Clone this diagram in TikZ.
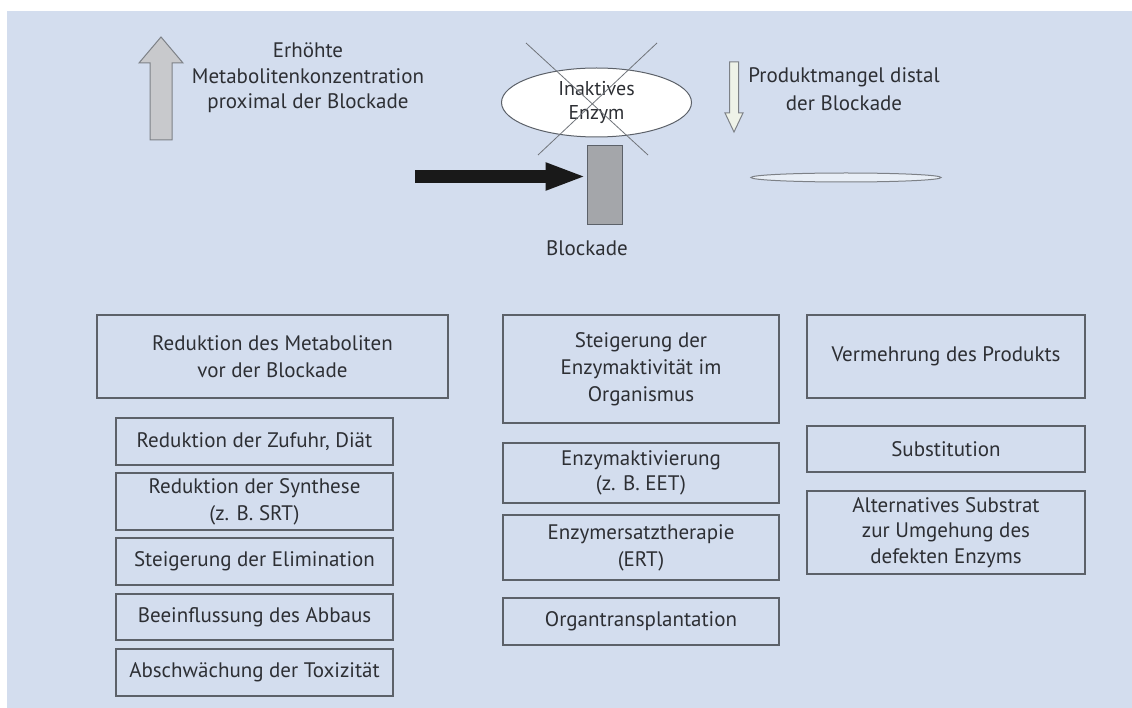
\documentclass[tikz,border=0pt]{standalone}
\usepackage{fontspec}
\setmainfont{PT Sans}
\usetikzlibrary{arrows.meta,shapes.geometric,positioning}
\definecolor{bgblue}{RGB}{211,221,238}
\definecolor{boxline}{RGB}{92,97,105}
\definecolor{txtgray}{RGB}{45,47,52}
\definecolor{blockgray}{RGB}{164,166,170}
\definecolor{upfill}{RGB}{200,201,204}
\definecolor{downfill}{RGB}{238,242,232}
\definecolor{discfill}{RGB}{232,238,246}
\definecolor{crossgray}{RGB}{112,116,122}
\tikzstyle{box} = [rectangle, draw=boxline, line width=1.3pt, align=center, text=txtgray, font=\fontsize{21}{27}\selectfont, inner sep=0pt, minimum width=277pt]
\tikzstyle{toptext} = [align=center, text=txtgray, font=\fontsize{21}{25.5}\selectfont]
\tikzstyle{blockarrow} = [draw=boxline!80, line width=1pt, line join=miter]
\tikzstyle{flowarrow} = [black!90, line width=13pt, -{Triangle[length=41pt,width=25pt]}]

\begin{document}
\begin{tikzpicture}[x=1pt,y=-1pt]
    \useasboundingbox (0,0) rectangle (1132,708);
    \fill[white] (0,0) rectangle (1132,708);
    \fill[bgblue] (7,11) rectangle (1132,708);

    %% upper part: blockade
    \draw[blockarrow, fill=upfill] (150,140) -- (150,63) -- (139,63) -- (161,37) -- (183,63) -- (172,63) -- (172,140) -- cycle; %% rising metabolite
    \node[toptext] (metab) at (308,78) {Erhöhte\\Metabolitenkonzentration\\proximal der Blockade};

    \node[ellipse, draw=boxline, line width=1pt, fill=white, minimum width=190pt, minimum height=69pt, inner sep=0pt, align=center, text=txtgray, font=\fontsize{20}{24}\selectfont] (enzym) at (596.5,102.5) {Inaktives\\Enzym};
    \coordinate (xtl) at (526,43);
    \coordinate (xtr) at (657,43);
    \coordinate (xbl) at (538,155);
    \coordinate (xbr) at (648,155);
    \draw[crossgray, line width=0.8pt] (xtl) -- (xbr); %% crossed out
    \draw[crossgray, line width=0.8pt] (xtr) -- (xbl);

    \node[rectangle, draw=boxline, line width=1pt, fill=blockgray, minimum width=35pt, minimum height=79pt, inner sep=0pt] (blk) at (604.5,185.5) {};
    \node[toptext] (blktext) at (587,248) {Blockade};
    \coordinate (flow) at (415,176.5);
    \draw[flowarrow] (flow) -- (blk.west |- flow);

    \draw[blockarrow, fill=downfill] (729.5,62) -- (738.5,62) -- (738.5,113) -- (743,113) -- (734,132) -- (725,113) -- (729.5,113) -- cycle; %% product deficit
    \node[toptext, font=\fontsize{21}{27.5}\selectfont] (mangel) at (844,89) {Produktmangel distal\\der Blockade};
    \node[ellipse, draw=boxline!80, line width=1pt, fill=discfill, minimum width=190pt, minimum height=9pt, inner sep=0pt] (product) at (846,177.5) {};

    %% left column
    \node[box, minimum width=351pt, minimum height=83pt] (redmet) at (272.5,356.5) {Reduktion des Metaboliten\\vor der Blockade};
    \node[box, minimum height=47pt] (zufuhr) at (254.5,441.5) {Reduktion der Zufuhr, Diät};
    \node[box, minimum height=57pt] (synth) at (254.5,501.5) {Reduktion der Synthese\\(z. B. SRT)};
    \node[box, minimum height=47pt] (elim) at (254.5,561.5) {Steigerung der Elimination};
    \node[box, minimum height=46pt] (abbau) at (254.5,617) {Beeinflussung des Abbaus};
    \node[box, minimum height=47pt] (toxi) at (254.5,672.5) {Abschwächung der Toxizität};

    %% middle column
    \node[box, minimum width=276pt, minimum height=108pt] (steig) at (641,369) {Steigerung der\\Enzymaktivität im\\Organismus};
    \node[box, minimum width=276pt, minimum height=60pt, font=\fontsize{21}{25}\selectfont] (aktiv) at (641,473) {Enzymaktivierung\\(z. B. EET)};
    \node[box, minimum width=276pt, minimum height=65pt] (ert) at (641,547.5) {Enzymersatztherapie\\(ERT)};
    \node[box, minimum width=276pt, minimum height=47pt] (organ) at (641,621.5) {Organtransplantation};

    %% right column
    \node[box, minimum width=278pt, minimum height=83pt] (vermehr) at (946,356.5) {Vermehrung des Produkts};
    \node[box, minimum width=278pt, minimum height=46pt] (subst) at (946,449) {Substitution};
    \node[box, minimum width=278pt, minimum height=83pt, font=\fontsize{21}{25.5}\selectfont] (altern) at (946,532.5) {Alternatives Substrat\\zur Umgehung des\\defekten Enzyms};
\end{tikzpicture}
\end{document}
